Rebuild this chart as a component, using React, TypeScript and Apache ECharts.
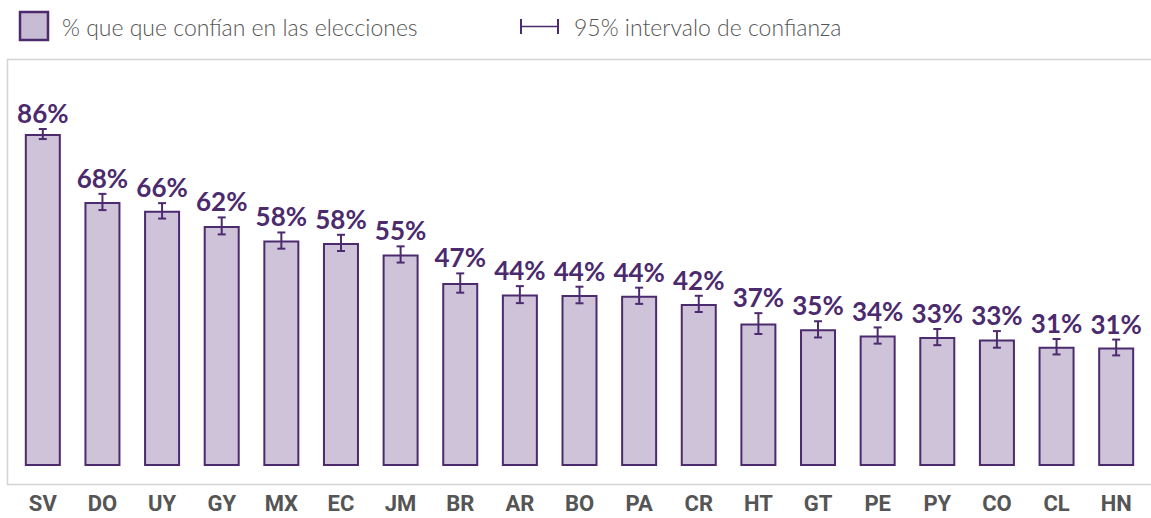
import React, { useEffect, useRef } from "react";
import * as echarts from "echarts";

const categories = ["SV", "DO", "UY", "GY", "MX", "EC", "JM", "BR", "AR", "BO", "PA", "CR", "HT", "GT", "PE", "PY", "CO", "CL", "HN"];
const values = [86.0, 68.4, 66.1, 62.2, 58.4, 57.8, 54.8, 47.4, 44.4, 44.3, 44.1, 42.0, 36.9, 35.4, 33.8, 33.4, 32.8, 30.9, 30.7];
const ciHalf = [1.3, 2.1, 2.0, 2.2, 2.1, 2.1, 2.1, 2.5, 2.2, 2.15, 2.1, 2.1, 2.7, 2.1, 2.1, 2.1, 2.15, 2.0, 2.05];
const legendBar = "% que que confían en las elecciones";
const legendCI = "95% intervalo de confianza";

const PURPLE = "#4b2a6e";
const FILL = "#cfc3d9";

export default function App() {
  const ref = useRef<HTMLDivElement>(null);
  useEffect(() => {
    document.body.style.margin = "0";
    const chart = echarts.init(ref.current!, null, { renderer: "svg" });
    const errData = categories.map((c, i) => [i, values[i], values[i] - ciHalf[i], values[i] + ciHalf[i]]);
    chart.setOption({
      animation: false,
      grid: { left: 13, right: 5, top: 80, bottom: 52, containLabel: false },
      xAxis: {
        type: "category",
        data: categories,
        axisLine: { show: false },
        axisTick: { show: false },
        axisLabel: {
          margin: 26,
          fontFamily: "Roboto",
          fontWeight: "bold",
          fontSize: 22,
          color: "#555555",
        },
      },
      yAxis: { type: "value", min: 0, max: 100, show: false, splitLine: { show: false } },
      graphic: [
        {
          type: "rect",
          shape: { x: 7.5, y: 59.5, width: 1160, height: 425 },
          style: { fill: "none", stroke: "#d4d4d4", lineWidth: 1.5 },
          silent: true,
          z: -10,
        },
        {
          type: "rect",
          shape: { x: 20, y: 12, width: 28, height: 28 },
          style: { fill: "#c8bcd4", stroke: PURPLE, lineWidth: 2.5 },
        },
        {
          type: "text",
          x: 62,
          y: 27,
          style: {
            text: legendBar,
            fontFamily: "Lato",
            fontWeight: 300,
            fontSize: 23,
            fill: "#555555",
            textVerticalAlign: "middle",
          },
        },
        {
          type: "polyline",
          shape: { points: [[521, 19], [521, 34]] },
          style: { stroke: PURPLE, lineWidth: 2 },
        },
        {
          type: "polyline",
          shape: { points: [[521, 26.5], [558, 26.5]] },
          style: { stroke: PURPLE, lineWidth: 1.5 },
        },
        {
          type: "polyline",
          shape: { points: [[558, 19], [558, 34]] },
          style: { stroke: PURPLE, lineWidth: 2 },
        },
        {
          type: "text",
          x: 574,
          y: 27,
          style: {
            text: legendCI,
            fontFamily: "Lato",
            fontWeight: 300,
            fontSize: 23,
            fill: "#555555",
            textVerticalAlign: "middle",
          },
        },
      ],
      series: [
        {
          type: "bar",
          data: values,
          barWidth: 36,
          itemStyle: { color: FILL, borderColor: PURPLE, borderWidth: 2 },
        },
        {
          type: "custom",
          data: errData,
          encode: { x: 0, y: [2, 3] },
          z: 10,
          renderItem: (params: any, api: any) => {
            const idx = api.value(0);
            const v = api.value(1);
            const lo = api.coord([idx, api.value(2)]);
            const hi = api.coord([idx, api.value(3)]);
            const cap = 4;
            const st = { stroke: PURPLE, lineWidth: 2 };
            return {
              type: "group",
              children: [
                { type: "line", shape: { x1: hi[0], y1: hi[1], x2: lo[0], y2: lo[1] }, style: st },
                { type: "line", shape: { x1: hi[0] - cap, y1: hi[1], x2: hi[0] + cap, y2: hi[1] }, style: st },
                { type: "line", shape: { x1: lo[0] - cap, y1: lo[1], x2: lo[0] + cap, y2: lo[1] }, style: st },
                {
                  type: "text",
                  x: hi[0],
                  y: hi[1] - 3,
                  style: {
                    text: Math.round(v) + "%",
                    fontFamily: "Lato",
                    fontWeight: "bold",
                    fontSize: 26,
                    fill: PURPLE,
                    textAlign: "center",
                    textVerticalAlign: "bottom",
                  },
                },
              ],
            };
          },
        },
      ],
    });
    return () => chart.dispose();
  }, []);
  return <div ref={ref} style={{ width: 1151, height: 518 }} />;
}
